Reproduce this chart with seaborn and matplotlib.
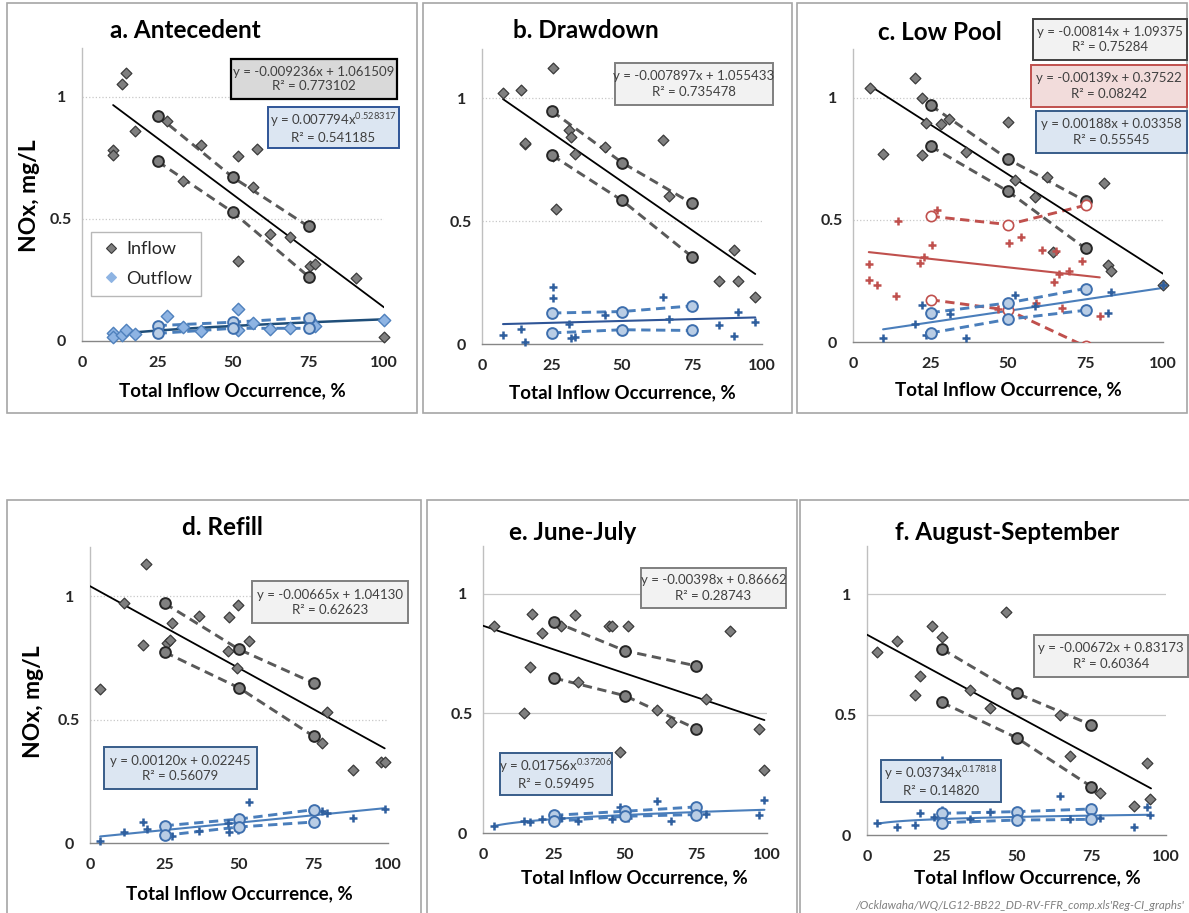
import numpy as np
import matplotlib
matplotlib.use("Agg")
import matplotlib.pyplot as plt
import seaborn as sns
from matplotlib.patches import Rectangle
from matplotlib.lines import Line2D

# ---------------------------------------------------------------- data
CI_X = [25, 50, 75]

# a. Antecedent
a_in_x = [10.3, 10.3, 13.2, 14.7, 17.6, 28.1, 33.4, 39.3, 51.5, 51.5, 56.6, 57.9, 62.1, 68.9, 75.5, 77.2, 90.6, 100]
a_in_y = [0.781, 0.763, 1.051, 1.096, 0.862, 0.900, 0.657, 0.802, 0.757, 0.328, 0.631, 0.788, 0.438, 0.425, 0.308, 0.315, 0.257, 0.018]
a_out_x = [10.3, 10.3, 13.2, 14.7, 17.6, 28.1, 33.4, 39.3, 51.5, 51.5, 56.6, 62.1, 68.9, 75.5, 77.2, 100]
a_out_y = [0.031, 0.015, 0.025, 0.045, 0.027, 0.104, 0.059, 0.041, 0.130, 0.045, 0.075, 0.048, 0.052, 0.085, 0.062, 0.086]
a_in_ci_hi = [0.923, 0.670, 0.469]
a_in_ci_lo = [0.736, 0.527, 0.264]
a_out_ci_hi = [0.063, 0.077, 0.096]
a_out_ci_lo = [0.031, 0.052, 0.052]
a_in_fit = (-0.009236, 1.061509)      # linear: slope, intercept
a_in_fit_x = [10.3, 100]
a_out_fit = (0.007794, 0.528317)      # power: coefficient, exponent
a_out_fit_x = [10.3, 100]

# b. Drawdown
b_in_x = [7.5, 14.1, 15.3, 15.3, 25.4, 25.4, 26.5, 31.1, 31.9, 33.2, 43.9, 64.8, 66.9, 84.8, 89.9, 91.6, 97.6]
b_in_y = [1.022, 1.034, 0.812, 0.819, 1.123, 0.765, 0.550, 0.869, 0.842, 0.774, 0.801, 0.831, 0.603, 0.257, 0.382, 0.257, 0.193]
b_out_x = [7.5, 14.1, 15.3, 25.2, 25.2, 31.1, 31.9, 33.2, 43.9, 64.8, 66.9, 84.8, 89.9, 91.6, 97.6]
b_out_y = [0.038, 0.062, 0.008, 0.231, 0.189, 0.082, 0.024, 0.027, 0.119, 0.193, 0.103, 0.078, 0.034, 0.130, 0.088]
b_in_ci_hi = [0.947, 0.738, 0.572]
b_in_ci_lo = [0.768, 0.584, 0.355]
b_out_ci_hi = [0.126, 0.132, 0.155]
b_out_ci_lo = [0.045, 0.058, 0.055]
b_in_fit = (-0.007897, 1.055433)
b_in_fit_x = [7.5, 97.6]
b_out_line_x = [7.5, 97.6]
b_out_line_y = [0.081, 0.108]

# c. Low Pool
c_in_x = [5.6, 9.7, 19.9, 22.3, 22.4, 23.4, 28.5, 31.0, 36.3, 50.0, 52.2, 58.6, 62.7, 64.5, 81.0, 82.3, 83.3, 100]
c_in_y = [1.041, 0.768, 1.082, 0.999, 0.765, 0.898, 0.893, 0.913, 0.779, 0.902, 0.663, 0.594, 0.676, 0.369, 0.652, 0.314, 0.290, 0.235]
c_red_x = [5.1, 5.2, 7.7, 14.0, 14.5, 21.5, 22.9, 25.6, 27.1, 46.8, 50.3, 54.3, 58.9, 61.0, 64.7, 65.6, 66.5, 67.5, 69.6, 74.0, 79.6]
c_red_y = [0.321, 0.255, 0.235, 0.187, 0.495, 0.324, 0.348, 0.396, 0.542, 0.137, 0.406, 0.430, 0.160, 0.378, 0.246, 0.373, 0.280, 0.141, 0.291, 0.331, 0.107]
c_out_x = [9.7, 19.9, 22.3, 23.7, 31.2, 36.3, 50.0, 52.2, 58.6, 82.3, 83.3, 100]
c_out_y = [0.018, 0.072, 0.153, 0.030, 0.116, 0.018, 0.137, 0.194, 0.148, 0.119, 0.205, 0.232]
c_in_ci_hi = [0.970, 0.749, 0.577]
c_in_ci_lo = [0.802, 0.617, 0.383]
c_red_ci_hi = [0.515, 0.481, 0.560]
c_red_ci_lo = [0.173, 0.131, -0.018]
c_out_ci_hi = [0.120, 0.160, 0.219]
c_out_ci_lo = [0.037, 0.093, 0.130]
c_in_fit = (-0.00814, 1.09375)
c_in_fit_x = [5.6, 100]
c_red_fit = (-0.00139, 0.37522)
c_red_fit_x = [5.1, 79.6]
c_out_fit = (0.00188, 0.03358)
c_out_fit_x = [9.7, 100]

# d. Refill
d_in_x = [3.4, 11.5, 17.9, 18.8, 25.7, 26.8, 27.6, 36.6, 46.4, 46.6, 49.4, 49.6, 53.3, 77.9, 79.6, 88.3, 97.5, 98.9]
d_in_y = [0.623, 0.972, 0.803, 1.131, 0.810, 0.821, 0.892, 0.922, 0.778, 0.915, 0.708, 0.964, 0.818, 0.404, 0.533, 0.296, 0.327, 0.330]
d_out_x = [3.4, 11.5, 17.9, 19.0, 25.7, 27.6, 36.6, 46.4, 46.6, 49.6, 53.3, 77.9, 79.6, 88.3, 98.9]
d_out_y = [0.007, 0.044, 0.085, 0.058, 0.034, 0.027, 0.050, 0.083, 0.043, 0.054, 0.166, 0.128, 0.121, 0.101, 0.139]
d_in_ci_hi = [0.972, 0.785, 0.649]
d_in_ci_lo = [0.774, 0.629, 0.433]
d_out_ci_hi = [0.070, 0.097, 0.135]
d_out_ci_lo = [0.031, 0.065, 0.085]
d_in_fit = (-0.00665, 1.04130)
d_in_fit_x = [0, 98.9]
d_out_fit = (0.00120, 0.02245)
d_out_fit_x = [3.4, 98.9]

# e. June-July
e_in_x = [3.8, 14.4, 16.5, 17.4, 20.9, 27.4, 32.5, 33.6, 44.2, 45.3, 48.2, 51.2, 61.4, 66.1, 78.6, 87.1, 97.3, 99.1]
e_in_y = [0.864, 0.501, 0.696, 0.916, 0.838, 0.864, 0.911, 0.632, 0.864, 0.866, 0.337, 0.866, 0.515, 0.464, 0.560, 0.845, 0.435, 0.265]
e_out_x = [3.8, 14.4, 16.5, 20.9, 27.4, 33.6, 45.3, 48.2, 51.2, 61.4, 66.1, 78.6, 97.3, 99.1]
e_out_y = [0.028, 0.049, 0.046, 0.058, 0.062, 0.049, 0.060, 0.109, 0.063, 0.132, 0.052, 0.079, 0.074, 0.139]
e_in_ci_hi = [0.884, 0.762, 0.699]
e_in_ci_lo = [0.648, 0.574, 0.436]
e_out_ci_hi = [0.074, 0.091, 0.109]
e_out_ci_lo = [0.049, 0.070, 0.077]
e_in_fit = (-0.00398, 0.86662)
e_in_fit_x = [0, 99.1]
e_out_fit = (0.01756, 0.37206)
e_out_fit_x = [3.8, 99.1]

# f. August-September
f_in_x = [3.3, 10.0, 15.9, 17.8, 21.6, 25.1, 34.3, 41.1, 46.4, 64.4, 68.0, 77.8, 89.2, 93.6, 94.8]
f_in_y = [0.758, 0.806, 0.582, 0.662, 0.866, 0.821, 0.602, 0.529, 0.924, 0.499, 0.328, 0.173, 0.120, 0.298, 0.150]
f_out_x = [3.3, 10.0, 15.9, 17.8, 22.3, 25.1, 25.1, 34.3, 41.1, 64.4, 68.0, 77.8, 89.2, 93.6, 94.8]
f_out_y = [0.051, 0.032, 0.042, 0.090, 0.076, 0.104, 0.312, 0.066, 0.097, 0.162, 0.065, 0.069, 0.032, 0.115, 0.083]
f_in_ci_hi = [0.773, 0.589, 0.457]
f_in_ci_lo = [0.551, 0.404, 0.201]
f_out_ci_hi = [0.090, 0.097, 0.108]
f_out_ci_lo = [0.051, 0.062, 0.065]
f_in_fit = (-0.00672, 0.83173)
f_in_fit_x = [0, 95]
f_out_fit = (0.03734, 0.17818)
f_out_fit_x = [3.3, 95]

TITLES = ["a. Antecedent", "b. Drawdown", "c. Low Pool", "d. Refill", "e. June-July", "f. August-September"]
X_TICKS = [0, 25, 50, 75, 100]
Y_TICKS = [0, 0.5, 1]
Y_TICK_LABELS = ["0", "0.5", "1"]
X_LABEL = "Total Inflow Occurrence, %"
Y_LABEL = "NOx, mg/L"
LEGEND_LABELS = ["Inflow", "Outflow"]
FOOTER = "/Ocklawaha/WQ/LG12-BB22_DD-RV-FFR_comp.xls'Reg-CI_graphs'"

# ---------------------------------------------------------------- style
sns.set_theme(style="white")
plt.rcParams["font.family"] = ["Lato", "DejaVu Sans"]
plt.rcParams["mathtext.default"] = "regular"
plt.rcParams["mathtext.fontset"] = "custom"
plt.rcParams["mathtext.rm"] = "Lato"

W, H = 1189, 913
fig = plt.figure(figsize=(W / 100, H / 100), dpi=100)
fig.patch.set_facecolor("white")

GRAY_IN_FC, GRAY_IN_EC = "#7F7F7F", "#3A3A3A"
GRAY_CI_FC, GRAY_CI_EC, GRAY_DASH = "#808080", "#262626", "#595959"
BLUE_PLUS = "#2F5F9E"
BLUE_CI_FC, BLUE_CI_EC, BLUE_DASH = "#B9CDE5", "#3E6FAE", "#4A7EBB"
BLUE_FIT = "#4A7EBB"
RED = "#C0504D"
TXT = "#262626"


def px_rect(x0, y0, x1, y1):
    return [x0 / W, 1 - y1 / H, (x1 - x0) / W, (y1 - y0) / H]


def pts(ax, x, y, marker, s, fc, ec, lw, z=4):
    sns.scatterplot(x=list(x), y=list(y), ax=ax, marker=marker, s=s, color=fc,
                    edgecolor=ec, linewidth=lw, zorder=z, clip_on=False, legend=False)


def line(ax, x, y, color, lw, ls="-", z=3):
    sns.lineplot(x=list(x), y=list(y), ax=ax, color=color, lw=lw, linestyle=ls,
                 sort=False, estimator=None, zorder=z, legend=False)


def ci(ax, hi, lo, fc, ec, dash_color, mew=1.4, s=60):
    for vals in (hi, lo):
        line(ax, CI_X, vals, dash_color, 2.1, (0, (3.2, 1.9)), z=3)
        pts(ax, CI_X, vals, "o", s, fc, ec, mew, z=5)


def lin_fit(ax, coef, xr, color, lw):
    xs = np.array(xr)
    line(ax, xs, coef[0] * xs + coef[1], color, lw)


def pow_fit(ax, coef, xr, color, lw):
    xs = np.linspace(xr[0], xr[1], 80)
    line(ax, xs, coef[0] * xs ** coef[1], color, lw)


def style_ax(ax, grid_ls):
    ax.set_xlim(0, 100)
    ax.set_ylim(0, 1.2)
    ax.set_facecolor("none")
    ax.set_xticks(X_TICKS)
    ax.set_xticklabels([str(t) for t in X_TICKS])
    ax.set_yticks(Y_TICKS)
    ax.set_yticklabels(Y_TICK_LABELS, ha="center")
    for gy in (0.5, 1.0):
        ax.axhline(gy, xmin=0, xmax=1, color="#C8C8C8", lw=0.9, ls=grid_ls, zorder=0)
    for sp in ("top", "right"):
        ax.spines[sp].set_visible(False)
    ax.spines["left"].set_color("#BFBFBF")
    ax.spines["left"].set_linewidth(1.0)
    ax.spines["bottom"].set_color("#868686")
    ax.spines["bottom"].set_linewidth(1.0)
    ax.tick_params(axis="x", length=4, width=1, color="#868686", direction="out",
                   pad=7, labelsize=11.5, labelcolor=TXT)
    ax.tick_params(axis="y", length=4, width=1, color="#BFBFBF", direction="out",
                   pad=11, labelsize=11.5, labelcolor=TXT)
    for lab in ax.get_xticklabels() + ax.get_yticklabels():
        lab.set_fontweight("bold")
    ax.set_xlabel("")
    ax.set_ylabel("")


# ---------------------------------------------------------------- panel frames
for (x0, y0, x1, y1) in [(7, 3, 417, 413), (423, 3, 792, 413), (797, 3, 1187, 413),
                         (7, 500, 421, 915), (427, 500, 797, 915), (800, 500, 1190, 915)]:
    fig.add_artist(Rectangle((x0 / W, 1 - y1 / H), (x1 - x0) / W, (y1 - y0) / H,
                             transform=fig.transFigure, fill=False, ec="#A6A6A6", lw=1.2, zorder=0))

AX_PX = [(82, 48, 384, 341), (482, 49, 762, 344), (853, 49, 1163, 342),
         (90, 547, 388, 843), (483, 546, 767, 833), (867, 546, 1166, 835)]
axes = [fig.add_axes(px_rect(*r)) for r in AX_PX]

DS = 30  # diamond size

# ---------------------------------------------------------------- a
ax = axes[0]
style_ax(ax, ":")
pts(ax, a_in_x, a_in_y, "D", DS, GRAY_IN_FC, GRAY_IN_EC, 0.9)
pts(ax, a_out_x, a_out_y, "D", 40, "#8EB4E3", "#4F81BD", 1.0)
ci(ax, a_in_ci_hi, a_in_ci_lo, GRAY_CI_FC, GRAY_CI_EC, GRAY_DASH)
ci(ax, a_out_ci_hi, a_out_ci_lo, BLUE_CI_FC, BLUE_CI_EC, BLUE_DASH)
lin_fit(ax, a_in_fit, a_in_fit_x, "black", 1.3)
pow_fit(ax, a_out_fit, a_out_fit_x, "#1F4E79", 1.8)
handles = [Line2D([], [], ls="", marker="D", ms=5, mfc=GRAY_IN_FC, mec=GRAY_IN_EC, mew=0.8),
           Line2D([], [], ls="", marker="D", ms=5, mfc="#8EB4E3", mec="#8EB4E3", mew=0.8)]
leg = ax.legend(handles, LEGEND_LABELS, loc="upper left", bbox_to_anchor=(91 / W, 1 - 232 / H),
                bbox_transform=fig.transFigure, frameon=True, fancybox=False, fontsize=13,
                labelspacing=0.75, handlelength=1.2, handletextpad=0.25, borderpad=0.5,
                borderaxespad=0, labelcolor=TXT)
leg.get_frame().set_edgecolor("#A6A6A6")
leg.get_frame().set_linewidth(1.0)

# ---------------------------------------------------------------- b
ax = axes[1]
style_ax(ax, ":")
pts(ax, b_in_x, b_in_y, "D", DS, GRAY_IN_FC, GRAY_IN_EC, 0.9)
pts(ax, b_out_x, b_out_y, "+", 30, BLUE_PLUS, BLUE_PLUS, 1.8)
ci(ax, b_in_ci_hi, b_in_ci_lo, GRAY_CI_FC, GRAY_CI_EC, GRAY_DASH)
ci(ax, b_out_ci_hi, b_out_ci_lo, BLUE_CI_FC, BLUE_CI_EC, BLUE_DASH)
lin_fit(ax, b_in_fit, b_in_fit_x, "black", 1.3)
line(ax, b_out_line_x, b_out_line_y, "#2F5597", 1.5)

# ---------------------------------------------------------------- c
ax = axes[2]
style_ax(ax, ":")
pts(ax, c_in_x, c_in_y, "D", DS, GRAY_IN_FC, GRAY_IN_EC, 0.9)
pts(ax, c_red_x, c_red_y, "+", 30, RED, RED, 1.8)
pts(ax, c_out_x, c_out_y, "+", 30, BLUE_PLUS, BLUE_PLUS, 1.8, z=4.5)
ci(ax, c_in_ci_hi, c_in_ci_lo, GRAY_CI_FC, GRAY_CI_EC, GRAY_DASH)
for vals in (c_red_ci_hi, c_red_ci_lo):
    sns.lineplot(x=CI_X, y=vals, ax=ax, color=RED, lw=2.1, linestyle=(0, (3.2, 1.9)),
                 sort=False, estimator=None, zorder=3, legend=False)
    sns.scatterplot(x=CI_X, y=vals, ax=ax, marker="o", s=55, color="white", edgecolor=RED,
                    linewidth=1.2, zorder=5, legend=False)
ci(ax, c_out_ci_hi, c_out_ci_lo, BLUE_CI_FC, BLUE_CI_EC, BLUE_DASH)
lin_fit(ax, c_in_fit, c_in_fit_x, "black", 1.3)
lin_fit(ax, c_red_fit, c_red_fit_x, RED, 1.5)
lin_fit(ax, c_out_fit, c_out_fit_x, BLUE_FIT, 1.5)

# ---------------------------------------------------------------- d
ax = axes[3]
style_ax(ax, ":")
pts(ax, d_in_x, d_in_y, "D", DS, GRAY_IN_FC, GRAY_IN_EC, 0.9)
pts(ax, d_out_x, d_out_y, "+", 30, BLUE_PLUS, BLUE_PLUS, 1.8)
ci(ax, d_in_ci_hi, d_in_ci_lo, GRAY_CI_FC, GRAY_CI_EC, GRAY_DASH)
ci(ax, d_out_ci_hi, d_out_ci_lo, BLUE_CI_FC, BLUE_CI_EC, BLUE_DASH)
lin_fit(ax, d_in_fit, d_in_fit_x, "black", 1.3)
lin_fit(ax, d_out_fit, d_out_fit_x, BLUE_FIT, 1.5)

# ---------------------------------------------------------------- e
ax = axes[4]
style_ax(ax, "-")
pts(ax, e_in_x, e_in_y, "D", DS, GRAY_IN_FC, GRAY_IN_EC, 0.9)
pts(ax, e_out_x, e_out_y, "+", 30, BLUE_PLUS, BLUE_PLUS, 1.8)
ci(ax, e_in_ci_hi, e_in_ci_lo, GRAY_CI_FC, GRAY_CI_EC, GRAY_DASH)
ci(ax, e_out_ci_hi, e_out_ci_lo, BLUE_CI_FC, BLUE_CI_EC, BLUE_DASH)
lin_fit(ax, e_in_fit, e_in_fit_x, "black", 1.3)
pow_fit(ax, e_out_fit, e_out_fit_x, BLUE_FIT, 1.5)

# ---------------------------------------------------------------- f
ax = axes[5]
style_ax(ax, "-")
pts(ax, f_in_x, f_in_y, "D", DS, GRAY_IN_FC, GRAY_IN_EC, 0.9)
pts(ax, f_out_x, f_out_y, "+", 30, BLUE_PLUS, BLUE_PLUS, 1.8)
ci(ax, f_in_ci_hi, f_in_ci_lo, GRAY_CI_FC, GRAY_CI_EC, GRAY_DASH)
ci(ax, f_out_ci_hi, f_out_ci_lo, BLUE_CI_FC, BLUE_CI_EC, BLUE_DASH)
lin_fit(ax, f_in_fit, f_in_fit_x, "black", 1.3)
pow_fit(ax, f_out_fit, f_out_fit_x, BLUE_FIT, 1.5)

# ---------------------------------------------------------------- titles / labels
TITLE_POS = [(185, 31), (586, 31), (940, 32), (222, 527), (573, 532), (1007, 532)]
for t, (cx, cy) in zip(TITLES, TITLE_POS):
    fig.text(cx / W, 1 - cy / H, t, ha="center", va="center", fontsize=17.5,
             fontweight="bold", color="black")

XL_POS = [(232, 391), (622, 393), (1008, 390), (239, 894), (634, 878), (1027, 878)]
for (cx, cy) in XL_POS:
    fig.text(cx / W, 1 - cy / H, X_LABEL, ha="center", va="center", fontsize=13.5,
             fontweight="bold", color="black")

for (cx, cy) in [(29, 196), (33, 702)]:
    fig.text(cx / W, 1 - cy / H, Y_LABEL, ha="center", va="center", rotation=90,
             fontsize=16.5, fontweight="bold", color="black")

# ---------------------------------------------------------------- equation boxes
BOXES = [
    ((231, 59, 397, 99), "#D9D9D9", "#000000", 1.6, "y = -0.009236x + 1.061509\nR² = 0.773102"),
    ((268, 107, 399, 148), "#DCE6F2", "#2F5597", 1.4, "y = 0.007794x$^{0.528317}$\nR² = 0.541185"),
    ((615, 63, 773, 105), "#F2F2F2", "#7F7F7F", 1.4, "y = -0.007897x + 1.055433\nR² = 0.735478"),
    ((1033, 19, 1187, 60), "#F2F2F2", "#404040", 1.4, "y = -0.00814x + 1.09375\nR² = 0.75284"),
    ((1031, 65, 1187, 107), "#F2DCDB", "#C0504D", 1.4, "y = -0.00139x + 0.37522\nR² = 0.08242"),
    ((1036, 111, 1187, 153), "#DCE6F2", "#385D8A", 1.4, "y = 0.00188x + 0.03358\nR² = 0.55545"),
    ((252, 581, 408, 623), "#F2F2F2", "#7F7F7F", 1.4, "y = -0.00665x + 1.04130\nR² = 0.62623"),
    ((104, 747, 257, 789), "#DCE6F2", "#385D8A", 1.4, "y = 0.00120x + 0.02245\nR² = 0.56079"),
    ((641, 568, 786, 608), "#F2F2F2", "#7F7F7F", 1.4, "y = -0.00398x + 0.86662\nR² = 0.28743"),
    ((500, 753, 612, 795), "#DCE6F2", "#385D8A", 1.4, "y = 0.01756x$^{0.37206}$\nR² = 0.59495"),
    ((1034, 635, 1188, 677), "#F2F2F2", "#7F7F7F", 1.4, "y = -0.00672x + 0.83173\nR² = 0.60364"),
    ((881, 760, 1001, 802), "#DCE6F2", "#385D8A", 1.4, "y = 0.03734x$^{0.17818}$\nR² = 0.14820"),
]
for (x0, y0, x1, y1), fc, ec, lw, txt in BOXES:
    fig.add_artist(Rectangle((x0 / W, 1 - y1 / H), (x1 - x0) / W, (y1 - y0) / H,
                             transform=fig.transFigure, fc=fc, ec=ec, lw=lw, zorder=10))
    fig.text((x0 + x1) / 2 / W, 1 - (y0 + y1) / 2 / H, txt, ha="center", va="center",
             fontsize=9.5, color="#404040", linespacing=1.3, zorder=11,
             multialignment="center")

fig.text(1184 / W, 1 - 905 / H, FOOTER, ha="right", va="center", fontsize=8.3,
         style="italic", color="#808080")

fig.savefig("out.png", dpi=100, facecolor="white")
